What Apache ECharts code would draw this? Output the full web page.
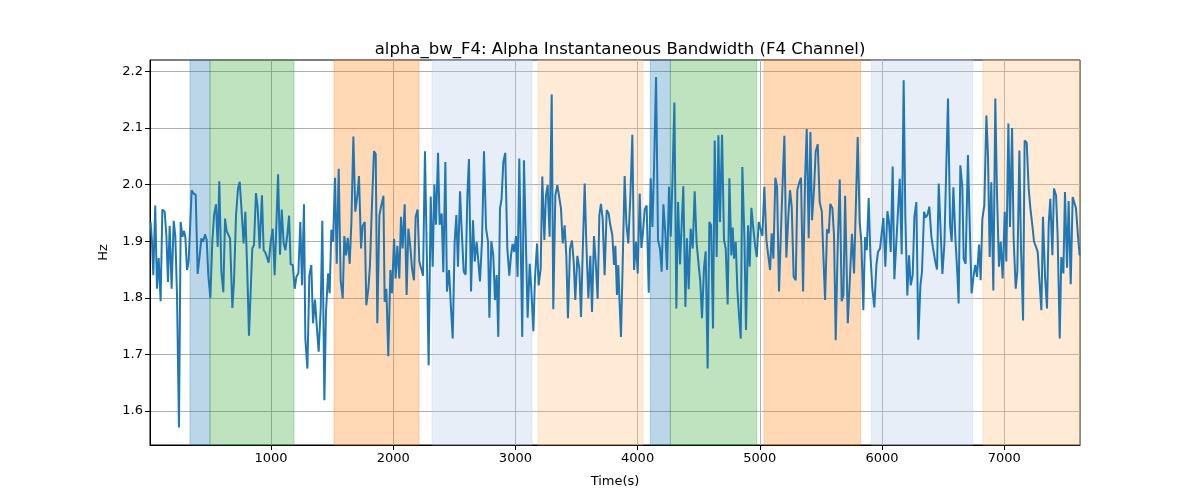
<!DOCTYPE html>
<html>
<head>
<meta charset="utf-8">
<script src="https://cdn.jsdelivr.net/npm/echarts@6/dist/echarts.min.js"></script>
<style>html,body{margin:0;padding:0;background:#fff}#c{width:1200px;height:500px}</style>
</head>
<body>
<div id="c"></div>
<script>
// ---- data (time in seconds, value in Hz) ----
const t1 = [15,26,37,53,67,81,97,111,130,144,157,171,187,204,217,231,247,261,275,288,299,313,326,351,367,384,400,419,430,444,460,474,487,504,520,534,550,564,577,594,610,624,637,651,665,684,697,714,730,744,760,776,790,806,820,834,847,861,877,891,907,926,940,954,970];
const v1 = [1.934,1.90,1.84,1.963,1.816,1.87,1.794,1.956,1.952,1.91,1.828,1.927,1.816,1.936,1.91,1.805,1.571,1.934,1.908,1.918,1.908,1.849,1.864,1.99,1.984,1.982,1.842,1.88,1.905,1.899,1.912,1.902,1.84,1.80,1.899,1.946,1.965,1.89,2.006,1.846,1.81,1.94,1.918,1.917,1.905,1.782,1.828,1.946,1.993,2.005,1.952,1.896,1.952,1.846,1.733,1.733,1.887,1.893,1.985,1.96,1.887,1.981,1.884,1.88,1.88];
const t2 = [981,998,1014,1030,1044,1058,1074,1088,1104,1118,1134,1148,1161,1178,1194,1208,1224,1240,1254,1270,1281,1298,1314,1330,1344,1360,1374,1390,1407,1420,1437,1450,1467,1480,1494,1508,1524,1538,1554,1570,1587,1600,1614,1628,1644,1658,1674,1690,1707,1720,1737,1750,1767,1780,1797,1810,1827,1843,1857,1870,1887,1903,1920];
const v2 = [1.862,1.899,1.922,1.84,1.928,2.018,1.876,1.956,1.896,1.884,1.912,1.945,1.859,1.858,1.816,1.837,1.843,1.934,1.822,1.965,1.728,1.675,1.84,1.858,1.755,1.797,1.752,1.705,1.781,1.936,1.619,1.775,1.843,1.808,1.92,1.899,2.012,1.86,2.028,1.831,1.799,1.909,1.875,1.906,1.86,1.934,2.085,1.952,1.981,2.015,1.887,1.927,1.934,1.787,1.816,1.858,1.969,2.059,2.054,1.755,1.946,1.963,1.98];
const t3 = [1930,1944,1960,1977,1990,2007,2020,2034,2050,2064,2077,2094,2110,2124,2140,2154,2170,2184,2200,2214,2230,2244,2260,2277,2290,2307,2323,2337,2350,2367,2380,2397,2410,2427,2440,2457,2473,2487,2503,2517,2530,2547,2560,2577,2593,2607,2620,2637,2653,2667,2683,2697,2710,2727,2743,2760,2776,2787,2803,2819,2833,2847,2860];
const v3 = [1.793,1.816,1.697,1.849,1.808,1.904,1.834,1.892,1.834,1.943,1.887,1.965,1.805,1.922,1.89,1.852,1.831,1.943,1.956,1.864,1.864,1.839,2.059,1.852,1.681,1.979,1.855,2.0,1.929,2.056,1.929,1.949,1.845,2.04,1.811,1.849,1.781,1.728,1.899,1.946,1.855,1.988,1.922,1.846,1.841,1.981,2.045,1.811,1.937,1.864,1.899,1.864,1.829,1.902,2.059,1.922,1.899,1.765,1.9,1.875,1.796,1.84,1.731];
const t4 = [2874,2887,2901,2917,2934,2950,2964,2977,2991,3005,3018,3032,3056,3070,3087,3100,3117,3130,3147,3160,3177,3190,3207,3220,3237,3250,3264,3280,3297,3310,3327,3343,3359,3373,3387,3403,3417,3430,3447,3463,3477,3490,3507,3523,3537,3550,3567,3580,3597,3613,3627,3643,3657,3673,3687,3700,3714,3730,3747,3763,3777,3793,3807,3818];
const v4 = [1.958,1.975,2.04,2.056,1.887,1.839,1.875,1.895,1.881,1.909,1.837,2.046,1.731,2.043,1.887,1.765,1.86,1.816,1.741,1.834,1.896,1.822,1.852,2.014,1.902,1.981,1.999,1.908,2.159,1.78,1.981,1.999,2.0,1.958,1.896,1.928,1.872,1.764,1.887,1.901,1.864,1.796,1.874,1.852,1.766,1.875,2.002,1.899,1.799,1.874,1.775,1.909,1.864,1.798,1.946,1.966,1.94,1.84,1.955,1.949,1.928,1.911,1.858,1.892];
const t5 = [3831,3842,3850,3864,3880,3894,3908,3924,3941,3957,3971,3987,4001,4017,4031,4044,4058,4074,4091,4107,4121,4134,4151,4167,4183,4197,4211,4227,4241,4257,4271,4284,4301,4317,4331,4347,4361,4374,4391,4404,4418,4434,4451,4467,4483,4497,4513,4527,4543,4557,4573,4587,4601,4617,4631,4647,4661,4674,4691,4707,4721,4737,4751,4767];
const v5 = [1.805,1.858,1.805,1.731,1.881,2.015,1.931,1.896,1.981,2.088,1.849,1.899,1.843,1.984,1.888,1.916,1.956,1.963,1.809,2.011,1.925,2.025,2.19,1.902,1.887,1.846,1.965,1.914,1.849,1.996,1.908,1.999,2.145,1.781,1.969,1.859,1.86,1.997,1.784,1.905,1.815,1.922,1.887,1.988,1.896,1.893,1.828,1.764,1.852,1.882,1.675,1.934,1.928,1.746,2.078,1.872,2.087,1.934,2.088,1.902,1.887,1.788,2.011,1.875];
const t6 = [4778,4789,4803,4816,4830,4844,4857,4874,4887,4904,4917,4931,4947,4961,4975,4991,5007,5021,5037,5054,5067,5084,5097,5111,5127,5141,5157,5171,5185,5201,5217,5234,5247,5261,5277,5294,5307,5321,5337,5354,5370,5384,5400,5414,5427,5444,5457,5474,5490,5507,5520,5534,5550,5564,5577,5594,5607,5621,5637,5654,5670,5684,5698,5720];
const v6 = [1.924,1.869,1.899,1.816,1.769,1.728,2.031,1.905,1.743,1.928,1.855,1.959,1.922,1.893,1.872,1.934,1.931,1.909,1.996,1.902,1.878,1.849,1.914,1.869,2.012,1.996,1.811,1.905,1.993,2.086,1.871,1.946,1.99,1.961,1.837,1.831,1.99,2.002,2.012,1.811,2.008,2.098,1.905,2.093,1.937,1.993,2.058,2.071,1.969,1.953,1.875,1.796,1.921,1.914,1.966,1.958,1.911,1.725,1.888,2.009,1.794,1.805,1.98,1.755];
const t7 = [5754,5771,5801,5817,5831,5847,5861,5875,5891,5905,5921,5937,5954,5967,5984,5997,6011,6027,6044,6057,6071,6087,6101,6115,6131,6145,6161,6177,6191,6207,6221,6235,6251,6265,6281,6297,6314,6327,6344,6357,6371,6387,6404,6417,6434,6450,6464,6480,6494,6510,6524,6540,6557,6570,6584,6600,6617,6627,6641,6657,6668];
const v7 = [1.913,1.843,2.084,1.934,1.899,1.778,1.907,1.884,1.976,1.875,1.816,1.783,1.858,1.881,1.887,1.884,1.941,1.855,1.953,1.934,1.881,2.032,1.833,1.89,1.888,2.01,1.877,2.184,1.941,1.804,1.875,1.822,1.84,1.943,1.969,1.726,1.822,1.846,1.952,1.942,1.946,1.961,1.908,1.888,1.866,1.85,2.002,1.916,1.842,1.894,1.896,2.152,1.928,1.899,1.995,1.907,1.84,1.79,2.034,1.996,1.869];
const t8 = [6684,6703,6720,6733,6750,6763,6777,6794,6807,6821,6837,6854,6867,6881,6894,6911,6927,6941,6957,6971,6987,7004,7017,7034,7047,7064,7077,7094,7107,7124,7137,7154,7167,7184,7200,7214,7230,7244,7260,7274,7287,7304,7317,7334,7350,7364,7377,7394,7407,7424,7437,7454,7467,7484,7497,7514,7527,7544,7560,7574,7587,7604,7617];
const v8 = [1.86,2.052,1.908,1.808,1.84,1.858,1.837,1.894,1.831,1.94,1.963,2.122,2.052,1.872,2.004,1.813,2.152,1.981,1.855,1.899,1.834,1.952,1.864,2.108,1.925,2.1,1.904,1.816,1.846,2.06,1.89,1.76,2.078,2.074,1.993,1.958,1.928,1.899,1.89,1.881,1.834,1.778,1.943,1.837,1.781,1.931,1.975,1.875,1.993,1.981,1.91,1.728,1.872,1.843,1.987,1.853,1.971,1.824,1.978,1.975,1.958,1.908,1.875];

// shaded segments: start, end, kind
const bandStart = [337, 501, 1516, 2318, 3185, 4104, 4268, 5035, 5913, 6826];
const bandEnd   = [501, 1188, 2211, 3136, 4044, 4268, 4975, 5825, 6742, 7620];
const bandKind  = ['blue','green','orange','lightblue','lightorange','blue','green','orange','lightblue','lightorange'];

const xTicks = [1000, 2000, 3000, 4000, 5000, 6000, 7000];
const yTicks = [1.6, 1.7, 1.8, 1.9, 2.0, 2.1, 2.2];
const xRange = [10, 7620];
const yRange = [1.54, 2.22];

// ---- styles ----
const kindColor = {
  blue: 'rgba(31,119,180,0.3)',
  green: 'rgba(44,160,44,0.3)',
  orange: 'rgba(255,127,14,0.3)',
  lightblue: 'rgba(174,199,232,0.3)',
  lightorange: 'rgba(255,187,120,0.3)'
};

const times = [].concat(t1,t2,t3,t4,t5,t6,t7,t8);
const vals = [].concat(v1,v2,v3,v4,v5,v6,v7,v8);
const data = times.map((t, i) => [t, vals[i]]);

const areas = bandStart.map((s, i) => [
  { xAxis: s, itemStyle: { color: kindColor[bandKind[i]], borderColor: kindColor[bandKind[i]], borderWidth: 1 } },
  { xAxis: bandEnd[i] }
]);

const font = 'DejaVu Sans';
const chart = echarts.init(document.getElementById('c'), null, { renderer: 'canvas' });
chart.setOption({
  animation: false,
  backgroundColor: '#fff',
  title: {
    text: 'alpha_bw_F4: Alpha Instantaneous Bandwidth (F4 Channel)',
    left: 615, top: 36, textAlign: 'center',
    textStyle: { fontFamily: font, fontSize: 16.5, fontWeight: 'normal', color: '#000' }
  },
  grid: { left: 150, right: 120, top: 60, bottom: 55, show: true, borderColor: '#000', borderWidth: 1, backgroundColor: 'transparent' },
  xAxis: {
    type: 'value', min: xRange[0], max: xRange[1],
    name: 'Time(s)', nameLocation: 'middle', nameGap: 30,
    nameTextStyle: { fontFamily: font, fontSize: 13, color: '#000' },
    axisLine: { show: true, lineStyle: { color: '#000', width: 1 } },
    axisTick: { show: true, inside: false, length: 5, lineStyle: { color: '#000' }, customValues: xTicks },
    axisLabel: { customValues: xTicks, fontFamily: font, fontSize: 13, color: '#000', margin: 7, formatter: v => String(Math.round(v)) },
    splitLine: { show: true, lineStyle: { color: '#b0b0b0', width: 1 } }
  },
  yAxis: {
    type: 'value', min: yRange[0], max: yRange[1],
    name: 'Hz', nameLocation: 'middle', nameGap: 40, nameRotate: 90,
    nameTextStyle: { fontFamily: font, fontSize: 13, color: '#000' },
    axisLine: { show: true, lineStyle: { color: '#000', width: 1 } },
    axisTick: { show: true, inside: false, length: 5, lineStyle: { color: '#000' }, customValues: yTicks },
    axisLabel: { customValues: yTicks, fontFamily: font, fontSize: 13, color: '#000', margin: 7, formatter: v => v.toFixed(1) },
    splitLine: { show: true, lineStyle: { color: '#b0b0b0', width: 1 } }
  },
  series: [{
    type: 'line',
    data: data,
    showSymbol: false,
    symbol: 'none',
    lineStyle: { color: '#1f77b4', width: 2 },
    itemStyle: { color: '#1f77b4' },
    z: 3,
    markArea: { silent: true, z: 1, data: areas }
  }]
});
</script>
</body>
</html>
